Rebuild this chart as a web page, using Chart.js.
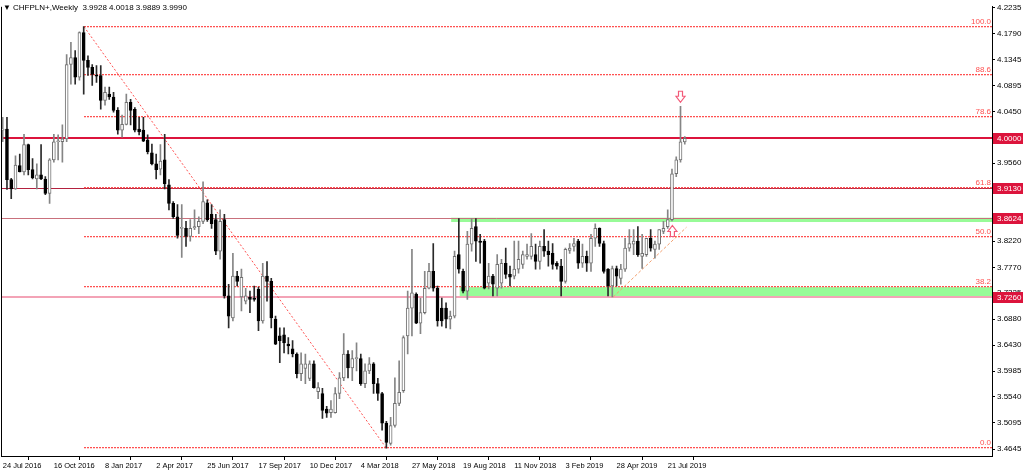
<!DOCTYPE html>
<html>
<head>
<meta charset="utf-8">
<script src="https://cdn.jsdelivr.net/npm/chart.js@4/dist/chart.umd.min.js"></script>
<style>
  html, body { margin: 0; padding: 0; background: #fff; }
  #wrap { width: 1024px; height: 474px; }
</style>
</head>
<body>
<div id="wrap"><canvas id="chart" width="1024" height="474"></canvas></div>
<script>
// weekly CHFPLN+ candles, first bar = week of 24 Jul 2016
const symbol = 'CHFPLN+';
const period = 'Weekly';
const dateLabels = ['24 Jul 2016', '16 Oct 2016', '8 Jan 2017', '2 Apr 2017', '25 Jun 2017', '17 Sep 2017',
  '10 Dec 2017', '4 Mar 2018', '27 May 2018', '19 Aug 2018', '11 Nov 2018', '3 Feb 2019', '28 Apr 2019', '21 Jul 2019'];
const weeksPerLabel = 12;

const open = [4.013,4.015,3.928,3.912,3.952,3.941,3.988,3.945,3.929,3.936,3.929,3.904,3.962,3.993,3.993,3.998,4.126,4.138,4.104,4.181,
  4.133,4.121,4.107,4.107,4.064,4.075,4.070,4.047,4.013,4.023,4.061,4.049,4.015,4.013,3.996,3.974,3.955,3.946,3.962,3.919,
  3.887,3.864,3.844,3.844,3.830,3.845,3.847,3.856,3.888,3.868,3.859,3.805,3.859,3.728,3.690,3.762,3.726,3.719,3.726,3.724,
  3.739,3.685,3.762,3.753,3.688,3.659,3.661,3.645,3.637,3.628,3.594,3.603,3.586,3.611,3.563,3.560,3.533,3.527,3.527,3.560,
  3.587,3.628,3.604,3.620,3.620,3.577,3.599,3.611,3.577,3.560,3.509,3.474,3.505,3.543,3.565,3.659,3.707,3.731,3.681,3.699,
  3.741,3.770,3.741,3.707,3.707,3.688,3.693,3.799,3.770,3.736,3.817,3.847,3.822,3.822,3.750,3.762,3.741,3.750,3.784,3.765,
  3.762,3.774,3.782,3.796,3.796,3.799,3.787,3.813,3.805,3.801,3.784,3.779,3.753,3.806,3.813,3.822,3.784,3.796,3.784,3.827,
  3.844,3.818,3.774,3.745,3.775,3.758,3.774,3.810,3.817,3.822,3.796,3.799,3.827,3.808,3.817,3.839,3.847,3.859,3.938,3.962,
  3.9928];
const high = [4.035,4.035,3.930,3.969,3.972,4.006,3.989,3.964,3.955,3.988,3.933,3.964,4.006,4.005,4.022,4.143,4.164,4.150,4.182,4.191,
  4.141,4.126,4.124,4.124,4.087,4.087,4.078,4.052,4.039,4.075,4.066,4.052,4.035,4.035,4.005,3.989,3.972,3.988,4.006,3.928,
  3.890,3.885,3.885,3.856,3.859,3.876,3.864,3.924,3.893,3.885,3.868,3.876,3.868,3.748,3.801,3.770,3.774,3.741,3.736,3.745,
  3.743,3.784,3.787,3.758,3.693,3.673,3.673,3.656,3.651,3.630,3.630,3.628,3.616,3.616,3.579,3.569,3.538,3.548,3.570,3.596,
  3.663,3.634,3.634,3.647,3.628,3.611,3.622,3.613,3.586,3.562,3.512,3.519,3.587,3.616,3.659,3.736,3.808,3.733,3.724,3.770,
  3.784,3.818,3.745,3.724,3.716,3.702,3.805,3.861,3.774,3.839,3.861,3.861,3.834,3.825,3.784,3.765,3.799,3.791,3.810,3.779,
  3.822,3.822,3.805,3.817,3.835,3.817,3.822,3.842,3.822,3.818,3.787,3.791,3.810,3.818,3.827,3.825,3.817,3.805,3.834,3.852,
  3.845,3.822,3.775,3.779,3.779,3.782,3.827,3.842,3.842,3.847,3.834,3.827,3.842,3.822,3.842,3.856,3.876,3.946,3.967,4.054,
  4.0018];
const low = [3.993,3.911,3.895,3.911,3.941,3.936,3.936,3.929,3.912,3.928,3.902,3.887,3.958,3.962,3.958,3.993,4.092,4.092,4.099,4.075,
  4.107,4.090,4.095,4.049,4.056,4.066,4.044,4.006,4.001,4.022,4.022,4.010,4.005,3.993,3.972,3.953,3.929,3.936,3.912,3.876,
  3.861,3.827,3.794,3.813,3.822,3.842,3.835,3.852,3.856,3.844,3.799,3.791,3.724,3.673,3.685,3.745,3.702,3.714,3.699,3.719,
  3.668,3.681,3.719,3.673,3.644,3.613,3.630,3.628,3.623,3.587,3.582,3.577,3.582,3.569,3.551,3.517,3.519,3.519,3.526,3.551,
  3.582,3.587,3.582,3.599,3.574,3.570,3.594,3.560,3.548,3.497,3.466,3.471,3.502,3.539,3.562,3.628,3.659,3.680,3.663,3.697,
  3.740,3.736,3.676,3.676,3.673,3.671,3.690,3.767,3.733,3.722,3.805,3.787,3.784,3.740,3.740,3.728,3.728,3.741,3.758,3.745,
  3.757,3.767,3.775,3.791,3.791,3.774,3.774,3.796,3.779,3.774,3.774,3.728,3.750,3.801,3.805,3.775,3.777,3.770,3.770,3.813,
  3.813,3.767,3.728,3.726,3.745,3.748,3.770,3.805,3.799,3.796,3.775,3.796,3.805,3.793,3.808,3.835,3.844,3.857,3.933,3.958,
  3.9889];
const close = [4.015,3.928,3.912,3.953,3.941,3.988,3.945,3.931,3.936,3.929,3.904,3.962,3.993,3.994,3.998,4.126,4.138,4.104,4.181,4.133,
  4.121,4.109,4.106,4.064,4.078,4.070,4.047,4.013,4.023,4.061,4.047,4.013,4.010,3.994,3.976,3.955,3.945,3.960,3.921,3.887,
  3.864,3.832,3.845,3.830,3.844,3.847,3.856,3.890,3.859,3.852,3.805,3.856,3.728,3.693,3.762,3.753,3.760,3.728,3.722,3.722,
  3.685,3.762,3.753,3.690,3.645,3.651,3.647,3.642,3.628,3.594,3.611,3.611,3.611,3.570,3.570,3.531,3.526,3.533,3.560,3.587,
  3.628,3.604,3.620,3.621,3.577,3.599,3.611,3.577,3.560,3.509,3.476,3.505,3.543,3.562,3.656,3.707,3.733,3.681,3.699,3.741,
  3.770,3.741,3.685,3.685,3.688,3.693,3.796,3.774,3.736,3.817,3.844,3.822,3.820,3.741,3.762,3.748,3.782,3.784,3.765,3.760,
  3.774,3.791,3.799,3.799,3.813,3.787,3.813,3.805,3.799,3.782,3.779,3.753,3.808,3.810,3.818,3.784,3.796,3.784,3.827,3.844,
  3.818,3.770,3.745,3.775,3.762,3.774,3.810,3.818,3.822,3.799,3.801,3.827,3.810,3.817,3.842,3.844,3.859,3.938,3.962,3.993,
  3.9990];

// price axis ticks as printed on the right
const yTicks = [4.2235, 4.1790, 4.1345, 4.0895, 4.0450, 4.0005, 3.9560, 3.9115, 3.8665, 3.8220, 3.7770,
  3.7325, 3.6880, 3.6430, 3.5985, 3.5540, 3.5095, 3.4645];

// drawn objects
const hLevels = [4.0000, 3.9130, 3.8624, 3.7260];
const fibLevels = [0, 38.2, 50.0, 61.8, 78.6, 88.6, 100.0];
const fibHigh = 4.191, fibLow = 3.466;
const fibFrom = 19, fibTo = 90;          // bar index of swing high / swing low
const zoneFrom = [105.2, 107.2];         // bar index where each green zone starts
const zoneTop = [3.8624, 3.743];
const zoneBottom = [3.855, 3.726];
const trendX = [143.2, 160.4], trendY = [3.726, 3.846];
const arrowX = [159, 157.1], arrowY = [4.061, 3.849], arrowDir = ['down', 'up'];

const idx = open.map((_, i) => i);
const isBull = i => close[i] >= open[i];
const font = '"Liberation Sans", Arial, sans-serif';

const levelStyle = [
  { color: '#dc143c', width: 2 },
  { color: '#b3213f', width: 1 },
  { color: '#c9707c', width: 1 },
  { color: '#f3a3b6', width: 2 }
];

// dotted fib line: red dots with a faint pink row under them
function dotted(ctx, x0, x1, yy) {
  for (let px = Math.round(x0); px < x1; px += 3) {
    ctx.fillStyle = '#ff5050';
    ctx.fillRect(px, yy, 2, 1);
    ctx.fillStyle = 'rgba(255,100,100,0.3)';
    ctx.fillRect(px, yy + 1, 2, 1);
  }
}

const overlay = {
  id: 'overlay',
  beforeDatasetsDraw(chart) {
    const { ctx, chartArea: a, scales: { x, y } } = chart;
    ctx.save();
    ctx.beginPath();
    ctx.rect(a.left, a.top, a.right - a.left, a.bottom - a.top);
    ctx.clip();

    // green zones
    ctx.fillStyle = '#98fb98';
    zoneFrom.forEach((f, k) => {
      const x0 = x.getPixelForValue(f);
      const y0 = y.getPixelForValue(zoneTop[k]);
      const y1 = y.getPixelForValue(zoneBottom[k]);
      ctx.fillRect(x0, y0, a.right - x0, y1 - y0);
    });

    // horizontal levels
    hLevels.forEach((v, k) => {
      const yy = Math.round(y.getPixelForValue(v)) + (levelStyle[k].width === 1 ? 0.5 : 0);
      ctx.strokeStyle = levelStyle[k].color;
      ctx.lineWidth = levelStyle[k].width;
      ctx.beginPath();
      ctx.moveTo(a.left, yy);
      ctx.lineTo(a.right, yy);
      ctx.stroke();
    });

    // fibonacci
    const fx = Math.round(x.getPixelForValue(fibFrom));
    ctx.font = '8px ' + font;
    ctx.textAlign = 'right';
    ctx.textBaseline = 'bottom';
    fibLevels.forEach(p => {
      const v = fibLow + (fibHigh - fibLow) * p / 100;
      const yy = Math.round(y.getPixelForValue(v)) - 1;
      dotted(ctx, fx, a.right, yy);
      ctx.fillStyle = '#ff5050';
      ctx.fillText(p.toFixed(1), a.right - 1, yy);
    });
    ctx.setLineDash([2, 2]);
    ctx.lineWidth = 1;
    ctx.strokeStyle = '#ff5050';
    ctx.beginPath();
    ctx.moveTo(fx, y.getPixelForValue(fibHigh));
    ctx.lineTo(x.getPixelForValue(fibTo), y.getPixelForValue(fibLow));
    ctx.stroke();

    // rising trendline
    ctx.setLineDash([3, 2]);
    ctx.strokeStyle = '#f2a070';
    ctx.beginPath();
    ctx.moveTo(x.getPixelForValue(trendX[0]), y.getPixelForValue(trendY[0]));
    ctx.lineTo(x.getPixelForValue(trendX[1]), y.getPixelForValue(trendY[1]));
    ctx.stroke();
    ctx.restore();
  },
  afterDatasetsDraw(chart) {
    const { ctx, chartArea: a, scales: { x, y } } = chart;
    ctx.save();
    // arrows
    arrowX.forEach((ax, k) => {
      const cx = x.getPixelForValue(ax);
      const ty = y.getPixelForValue(arrowY[k]);
      const s = arrowDir[k] === 'down' ? -1 : 1;
      ctx.beginPath();
      ctx.moveTo(cx, ty);
      ctx.lineTo(cx + 4.5, ty + 6 * s);
      ctx.lineTo(cx + 2, ty + 6 * s);
      ctx.lineTo(cx + 2, ty + 11 * s);
      ctx.lineTo(cx - 2, ty + 11 * s);
      ctx.lineTo(cx - 2, ty + 6 * s);
      ctx.lineTo(cx - 4.5, ty + 6 * s);
      ctx.closePath();
      ctx.fillStyle = '#fff';
      ctx.fill();
      ctx.strokeStyle = '#f25a78';
      ctx.lineWidth = 1.2;
      ctx.stroke();
    });

    // left frame line
    ctx.strokeStyle = '#000';
    ctx.lineWidth = 1;
    ctx.beginPath();
    ctx.moveTo(a.left + 0.5, a.top);
    ctx.lineTo(a.left + 0.5, a.bottom);
    ctx.stroke();

    // header
    const last = open.length - 1;
    ctx.fillStyle = '#000';
    ctx.font = '8px ' + font;
    ctx.textAlign = 'left';
    ctx.textBaseline = 'middle';
    ctx.fillText('\u25BC', 3, 8);
    ctx.fillText(symbol + ',' + period + '  ' + [open[last], high[last], low[last], close[last]]
      .map(v => v.toFixed(4)).join(' '), 13, 8);
    ctx.restore();
  },
  afterDraw(chart) {
    const { ctx, chartArea: a, scales: { y } } = chart;
    ctx.save();
    ctx.font = '8px ' + font;
    ctx.textAlign = 'left';
    ctx.textBaseline = 'middle';
    hLevels.forEach(v => {
      const yy = Math.round(y.getPixelForValue(v));
      ctx.fillStyle = '#dc143c';
      ctx.fillRect(a.right + 1, yy - 5, 30, 11);
      ctx.fillStyle = '#fff';
      ctx.fillText(v.toFixed(4), a.right + 5, yy + 0.5);
    });
    ctx.restore();
  }
};

const chart = new Chart(document.getElementById('chart'), {
  type: 'bar',
  data: {
    datasets: [
      {
        label: 'wick',
        data: idx.map(i => ({ x: i, y: [low[i], high[i]] })),
        backgroundColor: idx.map(i => isBull(i) ? '#858585' : '#2a2a2a'),
        barThickness: 1,
        minBarLength: 1,
        order: 2
      },
      {
        label: 'body',
        data: idx.map(i => ({ x: i, y: [open[i], close[i]] })),
        backgroundColor: idx.map(i => isBull(i) ? '#ffffff' : '#000000'),
        borderColor: idx.map(i => isBull(i) ? '#707070' : '#000000'),
        borderWidth: 1,
        borderSkipped: false,
        barThickness: 3,
        minBarLength: 1,
        order: 1
      }
    ]
  },
  options: {
    responsive: false,
    animation: false,
    layout: { padding: { top: 4, left: 1, right: 0, bottom: 0 } },
    plugins: { legend: { display: false }, tooltip: { enabled: false } },
    datasets: { bar: { grouped: false } },
    scales: {
      x: {
        type: 'linear',
        min: -0.4,
        max: 232.07,
        offset: false,
        afterBuildTicks: s => { s.ticks = dateLabels.map((d, k) => ({ value: k * weeksPerLabel })); },
        afterFit: s => { s.height = 18; },
        ticks: {
          callback: v => dateLabels[Math.round(v / weeksPerLabel)],
          align: 'start',
          maxRotation: 0,
          autoSkip: false,
          padding: 1,
          color: '#000',
          font: { size: 7.5, family: font }
        },
        grid: { drawOnChartArea: false, tickLength: 4, color: '#000' },
        border: { display: true, color: '#000' }
      },
      y: {
        position: 'right',
        min: 3.4525,
        max: 4.2252,
        beginAtZero: false,
        afterBuildTicks: s => { s.ticks = yTicks.map(v => ({ value: v })); },
        afterFit: s => { s.width = 32; },
        ticks: {
          callback: v => v.toFixed(4),
          padding: 2,
          color: '#000',
          font: { size: 8, family: font }
        },
        grid: { drawOnChartArea: false, tickLength: 3, color: '#000' },
        border: { display: true, color: '#000' }
      }
    }
  },
  plugins: [overlay]
});
</script>
</body>
</html>
